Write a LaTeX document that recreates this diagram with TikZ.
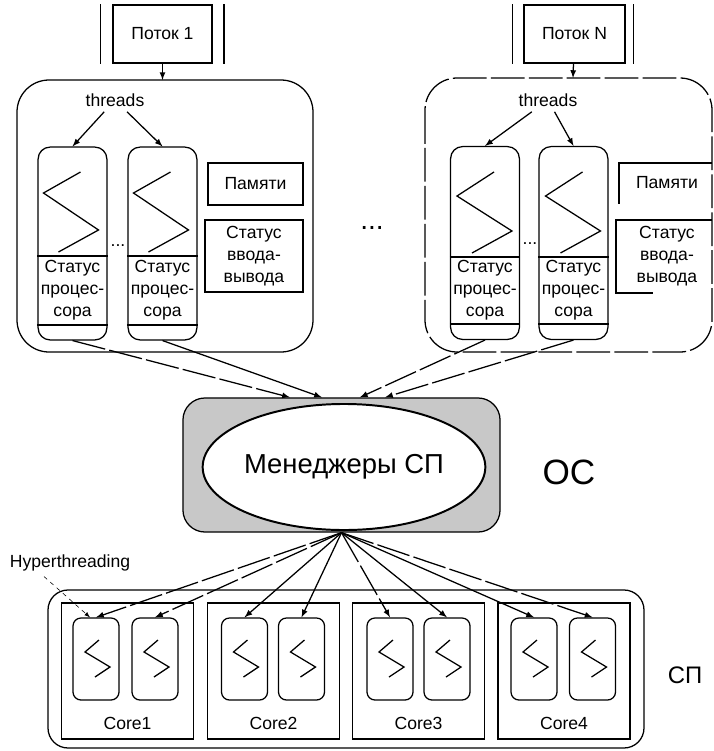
\documentclass[tikz,border=0pt]{standalone}
\usepackage{fontspec}
\setmainfont{Liberation Sans}
\usepackage{xcolor}
\usetikzlibrary{shapes.geometric}
\definecolor{g1}{HTML}{C8C8C8}

\tikzset{
  thrbox/.style={draw, rounded corners=0.3cm, minimum width=1.72cm, minimum height=4.82cm, inner sep=0pt},
  htbox/.style={draw, rounded corners=0.2cm, minimum width=1.15cm, minimum height=2.05cm, inner sep=0pt},
  corebox/.style={draw, minimum width=3.3cm, minimum height=3.4cm, inner sep=0pt},
  lbl/.style={align=center, inner sep=1pt},
  brk/.style={dash pattern=on 24pt off 3pt},
}

\begin{document}
\begin{tikzpicture}[x=0.025cm, y=-0.025cm, line width=0.9pt, font=\fontsize{12.5}{15.5}\selectfont]
	\useasboundingbox (0,0) rectangle (714,751);

	\begin{scope}
	\node [draw, minimum width=2.48cm, minimum height=1.45cm] (p1) at (162.5,34) {Поток 1};
	\draw ([xshift=-0.3cm]p1.north west) -- ([xshift=-0.3cm]p1.south west);
	\draw ([xshift=0.28cm]p1.north east) -- ([xshift=0.28cm]p1.south east);
	\draw [rounded corners=0.8cm] (17,80) rectangle (313,352);
	\coordinate (g1) at (162.5,80);
	\draw [-latex] (p1) -- (g1);
	\node (thr1) at (115,100) {threads};
	\foreach \x/\n in {72.5/t1a,162.5/t1b}{
		\node [thrbox] (\n) at (\x,243.5) {};
		\draw (\x+8,172) -- (\x-29,193) -- (\x+26,230) -- (\x-14,252);
		\draw (\n.west |- 0,256) -- (\n.east |- 0,256);
		\draw (\n.west |- 0,325) -- (\n.east |- 0,325);
		\node [lbl] (s\n) at (\x,290) {Статус\\процес-\\сора};
		\draw [-latex] (thr1) -- (\n.north);
	}
	\node (dd1) at (118,246) {...};
	\node [draw, minimum width=2.375cm, minimum height=1.05cm] (mem1) at (255.5,184) {Памяти};
	\node [draw, lbl, minimum width=2.45cm, minimum height=1.8cm] (io1) at (254,256) {Статус\\ввода-\\вывода};
	\end{scope}

	\node [font=\fontsize{20}{22}\selectfont] (dots) at (372,228) {...};

	\begin{scope}
	\node [draw, minimum width=2.52cm, minimum height=1.45cm] (pN) at (574.5,34) {Поток N};
	\draw ([xshift=-0.28cm]pN.north west) -- ([xshift=-0.28cm]pN.south west);
	\draw ([xshift=0.2cm]pN.north east) -- ([xshift=0.2cm]pN.south east);
	\draw [rounded corners=0.8cm, brk] (425,78) rectangle (712,352);
	\coordinate (gN) at (573,78);
	\draw [-latex] (pN) -- (gN);
	\node (thrN) at (548,100) {threads};
	\foreach \x/\n in {485/tNa,573.5/tNb}{
		\node [thrbox] (\n) at (\x,243) {};
		\draw (\x+9,172) -- (\x-28,196) -- (\x+27,231) -- (\x-13,253);
		\draw (\n.west |- 0,257) -- (\n.east |- 0,257);
		\draw (\n.west |- 0,324) -- (\n.east |- 0,324);
		\node [lbl] (s\n) at (\x,290) {Статус\\процес-\\сора};
		\draw [-latex] (thrN) -- (\n.north);
	}
	\node (ddN) at (530,244) {...};
	\node (memN) at (667,183) {Памяти};
	\draw (712,163) -- (619,163) -- (619,204);
	\node [lbl] (ioN) at (667,256) {Статус\\ввода-\\вывода};
	\draw (712,220) -- (616,220) -- (616,293) -- (653,293);
	\end{scope}

	% OS
	\node [draw, rounded corners=0.55cm, fill=g1, minimum width=7.925cm, minimum height=3.35cm] (mgrbox) at (341.5,465) {};
	\node [draw, ellipse, fill=white, line width=1.4pt, minimum width=5.25cm, minimum height=3.15cm, inner sep=0pt, font=\fontsize{19.5}{22}\selectfont] (mgr) at (344,467) {Менеджеры СП};
	\node [font=\fontsize{25}{28}\selectfont] (os) at (569,472) {ОС};
	\draw [-latex, brk] (t1a.south) -- ([xshift=-1.29cm]mgrbox.north);
	\draw [-latex] (t1b.south) -- ([xshift=-0.49cm]mgrbox.north);
	\draw [-latex, brk] (tNa.south) -- ([xshift=0.46cm]mgrbox.north);
	\draw [-latex, brk] (tNb.south) -- ([xshift=1.09cm]mgrbox.north);

	% CPU
	\draw [rounded corners=0.5cm] (48,590) rectangle (644,748);
	\foreach \x/\n/\k in {127.5/c1/1,273.5/c2/2,418.5/c3/3,564/c4/4}{
		\node [corebox] (\n) at (\x,671) {};
		\node (l\n) at (\x,723) {Core\k};
	}
	\foreach \x/\n in {96/h1a,155/h1b,244.5/h2a,301.5/h2b,390/h3a,447/h3b,534/h4a,592.5/h4b}{
		\node [htbox] (\n) at (\x,659) {};
		\draw (\x+3,640) -- (\x-11,652) -- (\x+14,667) -- (\x-1,677);
	}
	\foreach \n/\s in {h1a/brk,h1b/brk,h2a/solid,h2b/solid,h3a/brk,h3b/solid,h4a/solid,h4b/brk}
		\draw [-latex, \s] (mgrbox.south) -- (\n.north);
	\node (ht) at (70,563) {Hyperthreading};
	\draw [dashed, thin, -latex] ([xshift=-0.65cm]ht.south) -- ([xshift=-0.15cm]h1a.north);
	\node [font=\fontsize{17}{20}\selectfont] (sp) at (685,675) {СП};
\end{tikzpicture}
\end{document}
